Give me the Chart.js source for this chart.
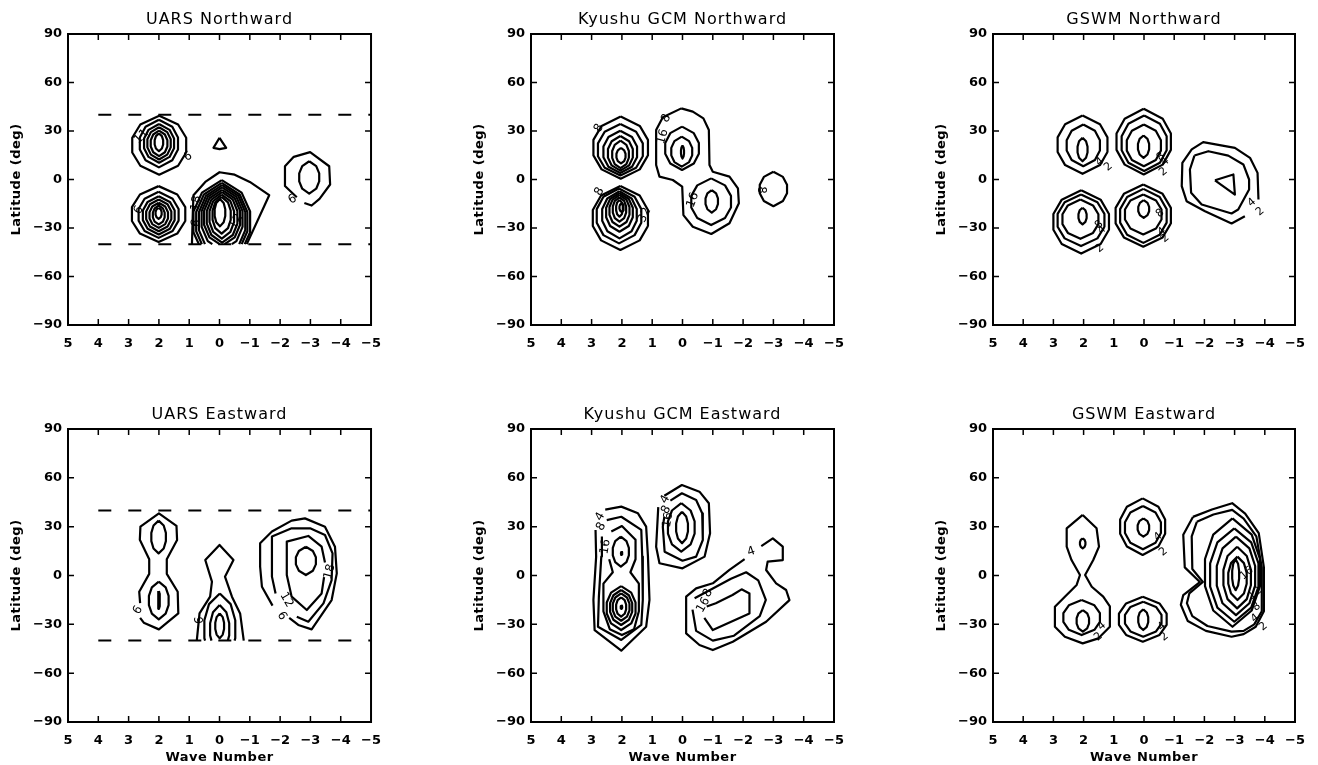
<!DOCTYPE html>
<html>
<head>
<meta charset="utf-8">
<script src="https://cdn.jsdelivr.net/npm/chart.js@4.4.1/dist/chart.umd.min.js"></script>
<style>
  body { margin: 0; background: #fff; width: 1318px; height: 765px; overflow: hidden; position: relative; }
  .panel { position: absolute; }
</style>
</head>
<body>
<div class="panel" style="left:0;top:0"><canvas id="p0" width="392" height="370"></canvas></div>
<div class="panel" style="left:463px;top:0"><canvas id="p1" width="392" height="370"></canvas></div>
<div class="panel" style="left:925px;top:0"><canvas id="p2" width="392" height="370"></canvas></div>
<div class="panel" style="left:0;top:395px"><canvas id="p3" width="392" height="370"></canvas></div>
<div class="panel" style="left:463px;top:395px"><canvas id="p4" width="392" height="370"></canvas></div>
<div class="panel" style="left:925px;top:395px"><canvas id="p5" width="392" height="370"></canvas></div>
<script>
// axes
const waveTicks = [5, 4, 3, 2, 1, 0, -1, -2, -3, -4, -5];
const waveTickLabels = ['5', '4', '3', '2', '1', '0', '−1', '−2', '−3', '−4', '−5'];
const latTicks = [90, 60, 30, 0, -30, -60, -90];
const latTickLabels = ['90', '60', '30', '0', '−30', '−60', '−90'];
const titles = ['UARS Northward', 'Kyushu GCM Northward', 'GSWM Northward',
                'UARS Eastward', 'Kyushu GCM Eastward', 'GSWM Eastward'];
const latAxisTitle = 'Latitude (deg)';
const waveAxisTitle = 'Wave Number';

// UARS coverage limits (dashed lines)
const cutLats = [40, -40];
const cutWaves = [4, -5];

// closed contours read as boxes: [wave at left edge, wave at right edge, lat bottom, lat top]
// other contours: lists of [wave, lat]
// labels: [wave, lat, text, angle]
const uarsNorthRings = [
  [2.88, 1.10, 3.0, 39.5], [2.63, 1.37, 7.5, 37.0], [2.49, 1.50, 10.4, 34.3],
  [2.38, 1.61, 12.4, 32.3], [2.27, 1.72, 14.5, 30.2], [2.14, 1.86, 17.5, 28.5],
  [2.89, 1.13, -38.6, -4.1], [2.67, 1.35, -36.1, -7.6], [2.53, 1.48, -34.0, -10.3],
  [2.42, 1.59, -32.0, -12.4], [2.31, 1.70, -29.9, -14.4], [2.20, 1.81, -27.8, -16.1],
  [2.11, 1.91, -24.3, -17.5],
  [0.86, -1.01, -52, -0.4], [0.77, -0.92, -50, -2.1], [0.68, -0.85, -48, -3.5],
  [0.59, -0.76, -44, -4.9], [0.51, -0.68, -41, -6.4], [0.42, -0.59, -39, -7.8],
  [0.33, -0.48, -36.5, -9.3], [0.23, -0.37, -33.5, -10.7], [0.16, -0.19, -29, -12],
  [-2.63, -3.29, -8.7, 11.3]
];
const uarsNorthPaths = [
  [[0.91, -40], [0.88, -20], [0.86, -9.7], [0.47, -1.5], [0, 4.5], [-0.5, 3], [-1.0, -1.5], [-1.64, -9.7], [-0.9, -40]],
  [[0, 25.8], [-0.22, 19.6], [0, 18.8], [0.2, 19.6], [0, 25.8]],
  [[-2.55, -11], [-2.16, -4], [-2.16, 8.2], [-2.45, 14], [-2.99, 16.9], [-3.62, 8.2], [-3.65, -3.1], [-3.3, -12], [-3.04, -16.1], [-2.8, -14.5]]
];
const uarsNorthLabels = [
  [2.58, 26.5, '11', -45], [1.04, 14.1, '6', -30], [2.67, -18.9, '6', -60],
  [-2.41, -12.3, '6', -30], [0.77, -14.7, '18', -80], [0.77, -27, '6', -80], [-0.55, -26, '12', -60]
];

const kyushuNorthRings = [
  [2.94, 1.14, 0.5, 38.9], [2.79, 1.31, 2.5, 34.3], [2.61, 1.50, 4.0, 30.2],
  [2.46, 1.64, 5.5, 26.9], [2.32, 1.77, 7.0, 24.0], [2.18, 1.88, 10.0, 19.5],
  [2.96, 1.14, -43.6, -4.0], [2.83, 1.36, -39.5, -5.6], [2.65, 1.51, -36.4, -7.3],
  [2.52, 1.64, -32.3, -8.5], [2.41, 1.75, -29.2, -9.7], [2.30, 1.86, -26.1, -11.0],
  [2.19, 1.97, -23.0, -12.6], [2.08, 1.94, -20.0, -14.7],
  [0.57, -0.54, 5.9, 32.7], [0.37, -0.32, 8.0, 26.5], [0.05, -0.05, 13.0, 21.0],
  [-0.29, -1.6, -28.2, 0.7], [-0.76, -1.17, -20.5, -6.5],
  [-2.55, -3.45, -16.5, 4.8]
];
const kyushuNorthPaths = [
  [[0.04, 44.0], [-0.34, 42.0], [-0.69, 37.8], [-0.87, 30.6], [-0.89, 9.0], [-1.0, 4.8], [-1.55, 1.8],
   [-1.83, -5.5], [-1.86, -14.7], [-1.55, -27.1], [-0.95, -33.7], [-0.34, -29.2], [-0.03, -22.0],
   [0.01, -4.4], [0.32, -0.3], [0.76, 1.8], [0.87, 9.0], [0.87, 30.6], [0.65, 38.5], [0.04, 44.0]]
];
const kyushuNorthLabels = [
  [2.76, 31.7, '8', -60], [2.74, -7.5, '8', -60], [0.65, 26.5, '16', -75], [0.54, 37.8, '8', -60],
  [-0.34, -12.7, '16', -70], [-2.6, -6.5, '8', 90], [1.25, -22, '32', -65]
];

const gswmNorthRings = [
  [2.86, 1.21, 3.5, 39.6], [2.56, 1.46, 8.2, 34.0], [2.2, 1.87, 11.3, 25.8],
  [0.91, -0.89, 3.1, 43.7], [0.74, -0.75, 5.2, 39.6], [0.57, -0.56, 8.2, 34.0], [0.2, -0.17, 13.4, 27.2],
  [3.0, 1.16, -45.8, -6.6], [2.86, 1.31, -41.2, -9.3], [2.7, 1.51, -36.7, -12.4], [2.17, 1.9, -27.8, -17.5],
  [0.94, -0.89, -41.6, -3.1], [0.79, -0.75, -39.2, -5.8], [0.63, -0.58, -34.0, -9.3], [0.19, -0.17, -23.7, -12.8]
];
const gswmNorthPaths = [
  [[-3.34, -22.7], [-2.9, -27.2], [-2.02, -19.6], [-1.41, -13.4], [-1.25, -4.1], [-1.27, 10.3], [-1.58, 18.6],
   [-1.96, 23.1], [-3.01, 19.6], [-3.51, 13.4], [-3.76, 4.1], [-3.79, -12.4]],
  [[-1.67, 14.8], [-2.13, 17.5], [-2.79, 14.8], [-3.29, 9.3], [-3.48, 0], [-3.48, -6.2], [-3.12, -18.6],
   [-2.9, -21], [-1.91, -15.5], [-1.56, -8.2], [-1.52, 6.2], [-1.67, 14.8]],
  [[-2.35, -0.5], [-2.96, 3.1], [-3.01, -9.3], [-2.35, -0.5]]
];
const gswmNorthLabels = [
  [1.46, 11, '4', -40], [1.18, 7.9, '2', -40],
  [-0.56, 14.1, '8', -40], [-0.7, 11, '4', -40], [-0.64, 4.8, '2', -40],
  [1.49, -28, '8', -40], [1.4, -31.2, '4', -40], [1.46, -42.6, '2', -40],
  [-0.53, -20.9, '8', -40], [-0.59, -32.3, '4', -40], [-0.7, -36.4, '2', -40],
  [-3.57, -14.3, '4', -40], [-3.84, -19.9, '2', -40]
];

const uarsEastRings = [
  [2.25, 1.77, 13.6, 33.7], [2.33, 1.68, -26.9, -3.8], [2.03, 1.97, -20.5, -9.5],
  [0.5, -0.52, -55, -11], [0.31, -0.32, -48, -18.1], [0.14, -0.15, -38.6, -23.3],
  [-2.52, -3.18, 0.3, 17.7]
];
const uarsEastPaths = [
  [[2.62, -17], [2.65, -10], [2.32, 1], [2.32, 10], [2.63, 22], [2.61, 30], [2.0, 38.2], [1.42, 30.5], [1.4, 21.8],
   [1.74, 10], [1.74, 1], [1.38, -10], [1.36, -23.3], [2.0, -33.1], [2.5, -29], [2.62, -26]],
  [[0.75, -40], [0.66, -23.3], [0.31, -13], [0.25, -3.8], [0.47, 9.5], [0, 18.8], [-0.46, 9.5], [-0.18, -0.7],
   [-0.41, -13], [-0.68, -23.3], [-0.8, -40]],
  [[-1.75, -18.5], [-1.4, -6.9], [-1.34, 5.4], [-1.34, 19.8], [-1.73, 27], [-2.38, 33.7], [-2.82, 35.1], [-3.48, 30],
   [-3.81, 17.7], [-3.87, 1.3], [-3.7, -15.1], [-3.04, -33.1], [-2.6, -30.4], [-2.3, -26]],
  [[-1.85, -11], [-1.73, -0.7], [-1.73, 23.9], [-2.38, 29], [-2.99, 29], [-3.48, 24.9], [-3.73, 13.6], [-3.7, -2.8],
   [-3.43, -17.1], [-2.93, -28.4], [-2.55, -25.3]],
  [[-3.45, -1], [-3.37, -11], [-2.88, -21.2], [-2.38, -13], [-2.22, 0.3], [-2.22, 20.8], [-2.93, 24.3], [-3.37, 17.7], [-3.48, 8]]
];
const uarsEastLabels = [
  [2.69, -21.2, '6', -60], [0.66, -27.4, '6', -90], [-2.21, -15, '12', 60], [-2.06, -24.9, '6', 60], [-3.64, 2.3, '18', -75]
];

const kyushuEastRings = [
  [2.3, 1.77, 5.4, 23.9], [2.03, 1.99, 12.6, 14.6],
  [2.50, 1.55, -33.5, -6.5], [2.39, 1.66, -30.4, -8.9], [2.30, 1.75, -27.8, -11.0],
  [2.19, 1.86, -25.3, -13.4], [2.04, 1.99, -20.5, -18.5],
  [0.48, -0.4, 14.6, 44.4], [0.21, -0.18, 19.8, 39.2]
];
const kyushuEastPaths = [
  [[2.55, 40.5], [2.02, 42.3], [1.47, 38.2], [1.2, 30], [1.14, 11.6], [1.09, -15], [1.2, -31.5], [2.02, -46.2],
   [2.9, -33.6], [2.94, -15], [2.85, 11.6], [2.87, 28]],
  [[2.5, 34], [2.02, 36.1], [1.36, 28], [1.33, 11.6], [1.31, -15], [1.36, -30.4], [2.02, -39.6], [2.79, -31.5],
   [2.76, -13], [2.68, 11.6], [2.66, 24]],
  [[2.35, 27], [2.0, 30.4], [1.55, 22], [1.55, 10], [1.72, 2], [1.44, -5], [1.44, -22], [1.6, -33], [2.0, -36.6],
   [2.4, -33], [2.61, -22], [2.61, -5], [2.3, 2], [2.42, 10]],
  [[0.6, 49], [0.02, 55.6], [-0.56, 51.5], [-0.87, 44.4], [-0.91, 25.9], [-0.73, 11.6], [0, 4.4], [0.76, 7.5],
   [0.87, 17.7], [0.8, 42]],
  [[0.4, 46], [0.02, 50.5], [-0.45, 46.4], [-0.65, 38.2], [-0.67, 21.8], [-0.45, 11.6], [0, 9.1], [0.59, 14.6],
   [0.65, 30], [0.6, 36]],
  [[-2.05, 10], [-1.55, 3.4], [-1.0, -4.8], [-0.45, -7.9], [-0.12, -13], [-0.12, -35.6], [-0.56, -42.7], [-1.0, -45.8],
   [-1.66, -40.7], [-2.76, -28.4], [-3.53, -15.1], [-3.42, -8.9], [-3.09, -4.8], [-2.76, 3.4], [-2.81, 8.5],
   [-3.31, 9.5], [-3.31, 17.7], [-2.98, 22.8], [-2.6, 18]],
  [[-0.4, -14], [-1.0, -8], [-1.6, -2], [-2.1, 2], [-2.5, -3], [-2.75, -15], [-2.55, -25], [-1.7, -37], [-1.0, -40],
   [-0.45, -34], [-0.33, -21]],
  [[-0.8, -19], [-1.1, -17], [-1.65, -12], [-1.95, -8.5], [-2.21, -11], [-2.21, -23.3], [-1.0, -33.5], [-0.72, -26]]
];
const kyushuEastLabels = [
  [2.72, 36.2, '4', -60], [2.68, 30, '8', -60], [2.54, 17.7, '16', -80],
  [0.57, 46.8, '4', -60], [0.54, 40.3, '8', -60], [0.48, 34.1, '16', -80],
  [-2.27, 14.6, '4', -20], [-0.84, -10.9, '8', -60], [-0.69, -18.1, '16', -60]
];

const gswmEastRings = [
  [2.12, 1.94, 16.7, 22.8],
  [2.67, 1.46, -36.6, -15.1], [2.23, 1.82, -34.5, -21.2],
  [0.79, -0.7, 12.6, 47.4], [0.63, -0.56, 16.1, 42.7], [0.21, -0.17, 23.9, 35.1],
  [0.83, -0.75, -40.7, -13], [0.63, -0.58, -37.6, -16.1], [0.19, -0.14, -33.5, -20.8],
  [-2.02, -3.84, -31.5, 35.1], [-2.19, -3.79, -28.4, 29], [-2.41, -3.68, -24.3, 23.9],
  [-2.63, -3.54, -20.2, 17.7], [-2.79, -3.4, -15.1, 11.6], [-2.92, -3.15, -9, 10]
];
const gswmEastPaths = [
  [[2.03, 37.2], [1.57, 29], [1.49, 17.7], [1.68, 9.5], [1.95, 0.3], [1.73, -6.9], [1.35, -13], [1.13, -19],
   [1.13, -31.5], [1.51, -38.6], [2.03, -41.7], [2.62, -37.6], [2.95, -31.5], [2.95, -19.2], [2.62, -13],
   [2.23, -5.8], [2.12, 0.3], [2.4, 9.5], [2.56, 17.7], [2.56, 29], [2.03, 37.2]],
  [[-1.62, 36], [-2.25, 40.5], [-2.92, 44.4], [-3.35, 38], [-3.8, 26], [-3.97, 5], [-3.97, -22], [-3.7, -31.5],
   [-3.3, -36], [-2.9, -37.6], [-2.05, -34], [-1.45, -28], [-1.22, -18], [-1.3, -12], [-1.85, -4], [-1.35, 5],
   [-1.3, 25], [-1.62, 36]],
  [[-1.75, 33], [-2.3, 37.5], [-2.92, 40.3], [-3.3, 35], [-3.72, 24], [-3.9, 5], [-3.9, -22], [-3.65, -30],
   [-3.3, -34], [-2.9, -34.5], [-2.1, -31], [-1.6, -25], [-1.42, -17], [-1.5, -11], [-1.95, -4], [-1.6, 4],
   [-1.58, 24], [-1.75, 33]]
];
const gswmEastLabels = [
  [-0.47, 23.8, '4', -40], [-0.64, 14.6, '2', -40],
  [1.4, -31, '4', -40], [1.51, -37.6, '2', -40],
  [-0.59, -31.4, '4', -40], [-0.67, -37.6, '2', -40],
  [-3.4, 1.3, '16', -40], [-3.68, -10.9, '12', -40], [-3.73, -19.2, '8', -40],
  [-3.68, -26.3, '4', -40], [-3.95, -31.4, '2', -40]
];

const panels = [
  { rings: uarsNorthRings, paths: uarsNorthPaths, labels: uarsNorthLabels, cut: true },
  { rings: kyushuNorthRings, paths: kyushuNorthPaths, labels: kyushuNorthLabels },
  { rings: gswmNorthRings, paths: gswmNorthPaths, labels: gswmNorthLabels, small: true },
  { rings: uarsEastRings, paths: uarsEastPaths, labels: uarsEastLabels, cut: true },
  { rings: kyushuEastRings, paths: kyushuEastPaths, labels: kyushuEastLabels },
  { rings: gswmEastRings, paths: gswmEastPaths, labels: gswmEastLabels, small: true }
];

// IDL-like polygon used to trace a closed contour inside its box
const ringShape = [[0, 1], [0.7, 0.7], [1, 0.25], [1, -0.25], [0.7, -0.7], [0, -1],
                   [-0.7, -0.7], [-1, -0.25], [-1, 0.25], [-0.7, 0.7], [0, 1]];

function ringPoints(box) {
  const [l, r, b, t] = box;
  const cx = (l + r) / 2, hw = (l - r) / 2, cy = (b + t) / 2, hh = (t - b) / 2;
  return ringShape.map(([u, v]) => [cx - u * hw, cy + v * hh]);
}

// turn [wave, lat] pairs into chart points, cutting off below the floor latitude
function toData(pts, floor) {
  const out = [];
  pts.forEach((p, i) => {
    if (floor !== undefined && i > 0) {
      const q = pts[i - 1];
      if ((p[1] >= floor) !== (q[1] >= floor)) {
        const f = (floor - q[1]) / (p[1] - q[1]);
        out.push({ x: q[0] + f * (p[0] - q[0]), y: floor });
        if (q[1] >= floor) out.push({ x: NaN, y: NaN });
      }
    }
    if (floor === undefined || p[1] >= floor) out.push({ x: p[0], y: p[1] });
  });
  return out;
}

function lineSet(data, dash) {
  return {
    data: data, showLine: true, pointRadius: 0, borderColor: '#000', borderWidth: dash ? 2 : 2.2,
    tension: 0, fill: false, spanGaps: false, borderDash: dash || [], borderJoinStyle: 'round'
  };
}

function framePlugin(i, p) {
  return {
    id: 'frame' + i,
    afterDraw(chart) {
      const { ctx, chartArea: a, scales: { x, y } } = chart;
      ctx.save();
      ctx.strokeStyle = '#000';
      ctx.lineWidth = 2;
      ctx.strokeRect(a.left, a.top, a.right - a.left, a.bottom - a.top);
      ctx.lineWidth = 1.5;
      ctx.beginPath();
      waveTicks.slice(1, -1).forEach(v => {
        const px = x.getPixelForValue(v);
        ctx.moveTo(px, a.top); ctx.lineTo(px, a.top + 6);
        ctx.moveTo(px, a.bottom); ctx.lineTo(px, a.bottom - 6);
      });
      latTicks.slice(1, -1).forEach(v => {
        const py = y.getPixelForValue(v);
        ctx.moveTo(a.left, py); ctx.lineTo(a.left + 6, py);
        ctx.moveTo(a.right, py); ctx.lineTo(a.right - 6, py);
      });
      ctx.stroke();

      ctx.fillStyle = '#000';
      ctx.textAlign = 'center';
      ctx.textBaseline = 'middle';
      ctx.font = '16px "DejaVu Sans"';
      ctx.letterSpacing = '1px';
      ctx.fillText(titles[i], (a.left + a.right) / 2, a.top - 14);
      ctx.font = 'bold 13px "DejaVu Sans"';
      ctx.letterSpacing = '0.5px';
      ctx.save();
      ctx.translate(17, (a.top + a.bottom) / 2);
      ctx.rotate(-Math.PI / 2);
      ctx.fillText(latAxisTitle, 0, 0);
      ctx.restore();
      if (i >= 3) ctx.fillText(waveAxisTitle, (a.left + a.right) / 2, a.bottom + 36);
      ctx.letterSpacing = '0px';

      ctx.font = (p.small ? '11px' : '12px') + ' "DejaVu Sans"';
      p.labels.forEach(([w, lat, txt, ang]) => {
        ctx.save();
        ctx.translate(x.getPixelForValue(w), y.getPixelForValue(lat));
        ctx.rotate(ang * Math.PI / 180);
        ctx.fillText(txt, 0, 0);
        ctx.restore();
      });
      ctx.restore();
    }
  };
}

const tickFont = { family: 'DejaVu Sans', size: 13, weight: 'bold' };
const rightPad = [20, 21, 22];
const bottomPad = [5, 3];

panels.forEach((p, i) => {
  const floor = p.cut ? cutLats[1] : undefined;
  const datasets = [];
  p.rings.forEach(b => datasets.push(lineSet(toData(ringPoints(b), floor))));
  p.paths.forEach(path => datasets.push(lineSet(toData(path, floor))));
  if (p.cut) {
    cutLats.forEach(lat => datasets.push(lineSet(cutWaves.map(w => ({ x: w, y: lat })), [13, 17])));
  }
  new Chart(document.getElementById('p' + i), {
    type: 'scatter',
    data: { datasets },
    options: {
      responsive: false,
      animation: false,
      events: [],
      layout: { padding: { left: 0, top: 34, right: rightPad[i % 3], bottom: bottomPad[Math.floor(i / 3)] } },
      plugins: { legend: { display: false }, tooltip: { enabled: false } },
      scales: {
        x: {
          type: 'linear', min: -5, max: 5, reverse: true,
          grid: { display: false, drawTicks: false }, border: { display: false },
          afterBuildTicks: s => { s.ticks = waveTicks.map(v => ({ value: v })); },
          afterFit: s => { s.height = 40; },
          ticks: {
            autoSkip: false, maxRotation: 0, padding: 11, color: '#000', font: tickFont,
            callback: v => waveTickLabels[waveTicks.indexOf(v)]
          }
        },
        y: {
          type: 'linear', min: -90, max: 90,
          grid: { display: false, drawTicks: false }, border: { display: false },
          afterBuildTicks: s => { s.ticks = latTicks.map(v => ({ value: v })); },
          afterFit: s => { s.width = 68; },
          ticks: {
            autoSkip: false, padding: 6, color: '#000', font: tickFont,
            callback: v => latTickLabels[latTicks.indexOf(v)]
          }
        }
      }
    },
    plugins: [framePlugin(i, p)]
  });
});
</script>
</body>
</html>
